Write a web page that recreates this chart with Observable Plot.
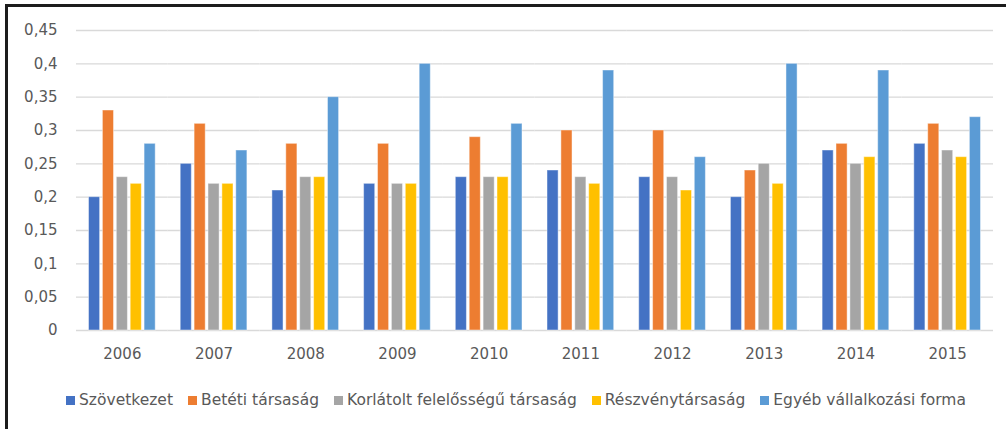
<!DOCTYPE html>
<html>
<head>
<meta charset="utf-8">
<script src="https://cdn.jsdelivr.net/npm/d3@7"></script>
<script src="https://cdn.jsdelivr.net/npm/@observablehq/plot@0.6"></script>
<style>
  html, body { margin: 0; padding: 0; background: #fff; overflow: hidden; }
  #frame { position: absolute; left: 5px; top: 4px; width: 1200px; height: 600px;
           border-left: 3px solid #1c1c1c; border-top: 3px solid #1c1c1c; pointer-events: none; }
  #chart { position: absolute; left: 0; top: 0; width: 1006px; font-family: "DejaVu Sans", sans-serif; }
  #legend { display: flex; justify-content: center; align-items: center; gap: 15px;
            font-size: 15.5px; color: #595959; padding-top: 10px; padding-left: 26px; line-height: 20px; }
  #legend .item { display: flex; align-items: center; gap: 4px; }
  #legend .sw { width: 9px; height: 9px; display: inline-block; }
</style>
</head>
<body>
<div id="chart"></div>
<div id="frame"></div>
<script>
const years = ["2006","2007","2008","2009","2010","2011","2012","2013","2014","2015"];
const seriesNames = ["Szövetkezet","Betéti társaság","Korlátolt felelősségű társaság","Részvénytársaság","Egyéb vállalkozási forma"];
const seriesColors = ["#4472C4","#ED7D31","#A5A5A5","#FFC000","#5B9BD5"];
const szovetkezet      = [0.20,0.25,0.21,0.22,0.23,0.24,0.23,0.20,0.27,0.28];
const betetiTarsasag   = [0.33,0.31,0.28,0.28,0.29,0.30,0.30,0.24,0.28,0.31];
const korlatoltFelelos = [0.23,0.22,0.23,0.22,0.23,0.23,0.23,0.25,0.25,0.27];
const reszvenytarsasag = [0.22,0.22,0.23,0.22,0.23,0.22,0.21,0.22,0.26,0.26];
const egyebForma       = [0.28,0.27,0.35,0.40,0.31,0.39,0.26,0.40,0.39,0.32];
const yTicks = [0,0.05,0.1,0.15,0.2,0.25,0.3,0.35,0.4,0.45];

const allSeries = [szovetkezet, betetiTarsasag, korlatoltFelelos, reszvenytarsasag, egyebForma];
const rows = [];
years.forEach((yr, i) => {
  seriesNames.forEach((s, j) => rows.push({year: yr, series: s, value: allSeries[j][i]}));
});

const fmt = d => String(d).replace(".", ",");

const plot = Plot.plot({
  width: 1006,
  height: 380,
  marginLeft: 76,
  marginRight: 13,
  marginTop: 30,
  marginBottom: 50,
  style: {fontFamily: "DejaVu Sans, sans-serif", fontSize: "15px", color: "#595959", background: "transparent"},
  facet: {data: rows, x: "year"},
  fx: {domain: years, padding: 0, round: false, label: null, tickSize: 0, tickPadding: 18},
  x: {domain: seriesNames, axis: null, round: false, paddingInner: 0.2, paddingOuter: 0.9},
  y: {domain: [0, 0.45], ticks: yTicks, tickFormat: fmt, tickSize: 0, tickPadding: 19, label: null},
  color: {domain: seriesNames, range: seriesColors},
  marks: [
    Plot.ruleY(yTicks, {stroke: "#d9d9d9", strokeWidth: 1.3}),
    Plot.barY(rows, {x: "series", y: "value", fill: "series", stroke: "white", strokeOpacity: 0.45, strokeWidth: 1})
  ]
});
document.getElementById("chart").appendChild(plot);

const legend = document.createElement("div");
legend.id = "legend";
seriesNames.forEach((s, j) => {
  const it = document.createElement("span");
  it.className = "item";
  const sw = document.createElement("span");
  sw.className = "sw";
  sw.style.background = seriesColors[j];
  const tx = document.createElement("span");
  tx.textContent = s;
  it.appendChild(sw); it.appendChild(tx);
  legend.appendChild(it);
});
document.getElementById("chart").appendChild(legend);
</script>
</body>
</html>
